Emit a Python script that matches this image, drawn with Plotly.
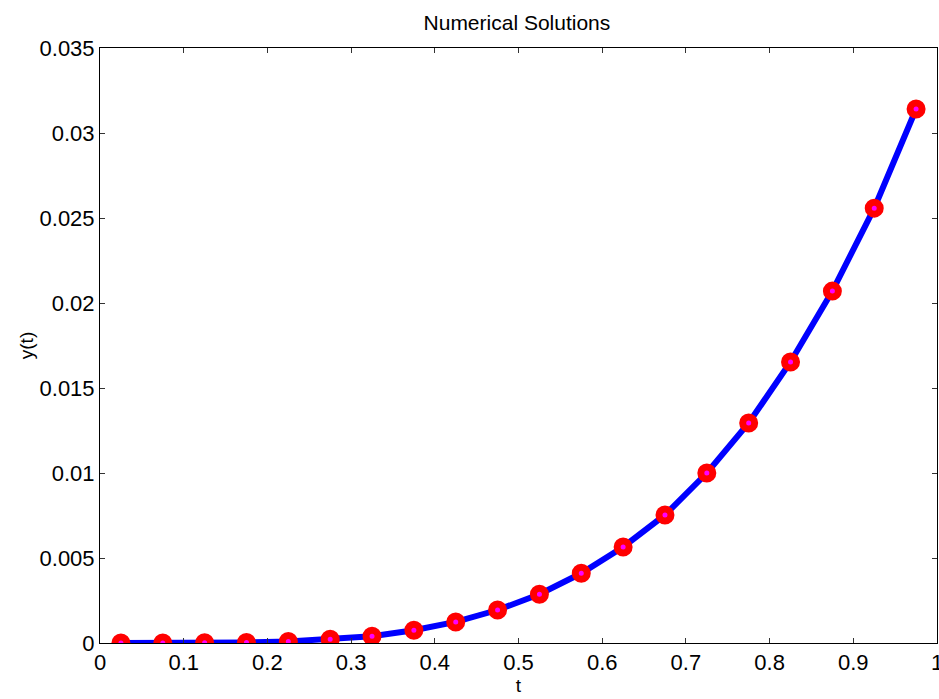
import plotly.graph_objects as go

t = [0.025, 0.075, 0.125, 0.175, 0.225, 0.275, 0.325, 0.375, 0.425, 0.475,
     0.525, 0.575, 0.625, 0.675, 0.725, 0.775, 0.825, 0.875, 0.925, 0.975]
y = [0.0, 0.0, 0.00001, 0.00003, 0.00009, 0.00022, 0.0004, 0.00075, 0.00124, 0.00194,
     0.00287, 0.0041, 0.00565, 0.00753, 0.0100, 0.01294, 0.01653, 0.0207, 0.02558, 0.03141]

x_ticks = [0, 0.1, 0.2, 0.3, 0.4, 0.5, 0.6, 0.7, 0.8, 0.9, 1]
x_ticklabels = ["0", "0.1", "0.2", "0.3", "0.4", "0.5", "0.6", "0.7", "0.8", "0.9", "1"]
y_ticks = [0, 0.005, 0.01, 0.015, 0.02, 0.025, 0.03, 0.035]
y_ticklabels = ["0", "0.005", "0.01", "0.015", "0.02", "0.025", "0.03", "0.035"]

fig = go.Figure()
fig.add_trace(go.Scatter(x=t, y=y, mode="lines",
                         line=dict(color="#0000ff", width=6), showlegend=False))
fig.add_trace(go.Scatter(x=t, y=y, mode="markers",
                         marker=dict(symbol="circle", size=12, color="#ff00ff",
                                     line=dict(color="#ff0000", width=7)),
                         showlegend=False))

font = "Liberation Sans, Arial, sans-serif"
axis_common = dict(showline=True, linecolor="black", linewidth=1, mirror="ticks",
                   ticks="inside", ticklen=5, tickcolor="#333333", tickwidth=1,
                   showgrid=False, zeroline=False, automargin=False,
                   ticklabeloverflow="allow",
                   tickfont=dict(family=font, size=22, color="black"))

fig.update_layout(
    width=939, height=699,
    margin=dict(l=100, r=2, t=48, b=56),
    paper_bgcolor="white", plot_bgcolor="white",
    title=dict(text="Numerical Solutions", x=0.5505, xanchor="center", y=0.968, yanchor="middle",
               font=dict(family=font, size=21, color="black")),
    xaxis=dict(range=[0, 1], tickvals=x_ticks, ticktext=x_ticklabels,
               title=dict(text="t", font=dict(family=font, size=19, color="black"), standoff=0),
               **axis_common),
    yaxis=dict(range=[0, 0.035], tickvals=y_ticks, ticktext=y_ticklabels,
               title=dict(text="y(t)", font=dict(family=font, size=19, color="black"), standoff=0),
               **axis_common),
)

fig.write_html("out.html", config={"displayModeBar": False},
               post_script="document.body.style.margin='0';document.body.style.overflow='hidden';")
